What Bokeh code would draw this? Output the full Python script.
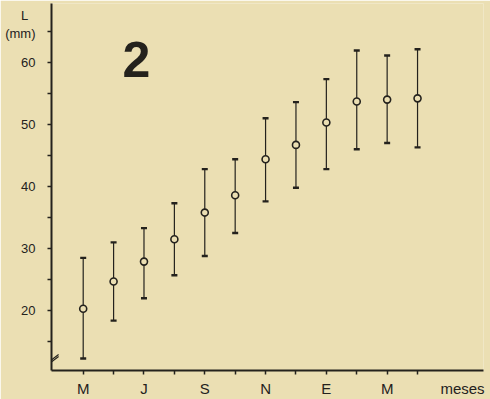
from bokeh.plotting import figure
from bokeh.models import (ColumnDataSource, FixedTicker, Label, Whisker, TeeHead,
                          Range1d, Arrow)
from bokeh.embed import file_html
from bokeh.resources import INLINE

# data (monthly samples, May .. April)
months = ["May", "Jun", "Jul", "Ago", "Sep", "Oct", "Nov", "Dic", "Ene", "Feb", "Mar", "Abr"]
month_index = list(range(len(months)))
mean_len = [20.3, 24.7, 27.9, 31.5, 35.8, 38.6, 44.4, 46.7, 50.3, 53.7, 54.0, 54.2]
upper_len = [28.5, 31.0, 33.3, 37.3, 42.8, 44.4, 51.0, 53.6, 57.3, 61.9, 61.1, 62.1]
lower_len = [12.3, 18.4, 22.0, 25.7, 28.8, 32.5, 37.6, 39.8, 42.8, 46.0, 47.0, 46.3]

x_label_pos = [0, 2, 4, 6, 8, 10, 12.48]
x_labels = ["M", "J", "S", "N", "E", "M", "meses"]
x_tick_marks = month_index
y_label_pos = [20, 30, 40, 50, 60, 66.1]
y_labels = ["20", "30", "40", "50", "60", "L\u00a0\u00a0\n(mm)"]
y_tick_marks = [15, 20, 25, 30, 35, 40, 45, 50, 55, 60, 65]

BG = "#ebdfb3"
INK = "#24221d"
FONT = "Liberation Sans"

p = figure(width=490, height=399, output_backend="svg", toolbar_location=None,
           x_range=Range1d(-1.043, 13.17), y_range=Range1d(10.36, 69.48),
           min_border_left=51, min_border_right=7, min_border_top=3,
           min_border_bottom=28, background_fill_color=BG,
           border_fill_color=BG, outline_line_color=None)
p.grid.visible = False

src = ColumnDataSource(dict(x=month_index, m=mean_len, up=upper_len, lo=lower_len))

w = Whisker(source=src, base="x", upper="up", lower="lo", dimension="height",
            line_color=INK, line_width=1.2,
            upper_head=TeeHead(size=6, line_width=2.4, line_color=INK),
            lower_head=TeeHead(size=6, line_width=2.4, line_color=INK))
p.add_layout(w)
p.scatter("x", "m", source=src, size=7, fill_color=BG, line_color=INK, line_width=1.6)

for ax in (p.xaxis[0], p.yaxis[0]):
    ax.axis_line_color = INK
    ax.axis_line_width = 2
    ax.major_tick_line_color = None
    ax.major_tick_in = 0
    ax.major_tick_out = 0
    ax.minor_tick_line_color = INK
    ax.minor_tick_line_width = 1.5
    ax.minor_tick_in = 0
    ax.minor_tick_out = 4
    ax.major_label_text_font = FONT
    ax.major_label_text_color = INK

p.xaxis.ticker = FixedTicker(ticks=x_label_pos, minor_ticks=x_tick_marks)
p.xaxis.major_label_overrides = {t: l for t, l in zip(x_label_pos, x_labels)}
p.xaxis.major_label_standoff = 5
p.xaxis.major_label_text_font_size = "15px"

p.yaxis.ticker = FixedTicker(ticks=y_label_pos, minor_ticks=y_tick_marks)
p.yaxis.major_label_overrides = {t: l for t, l in zip(y_label_pos, y_labels)}
p.yaxis.major_label_standoff = 12
p.yaxis.major_label_text_font_size = "13px"

p.add_layout(Label(x=1.75, y=60.5, text="2", text_align="center",
                   text_baseline="alphabetic", text_font=FONT,
                   text_font_size="50px", text_font_style="bold", text_color=INK))

# axis break mark
for dy in (0.0, 0.35):
    p.add_layout(Arrow(end=None, x_start=-1.24, y_start=11.0 + dy,
                       x_end=-0.81, y_end=12.6 + dy, line_color=INK, line_width=1.2))

open("out.html", "w").write(file_html(p, INLINE))
